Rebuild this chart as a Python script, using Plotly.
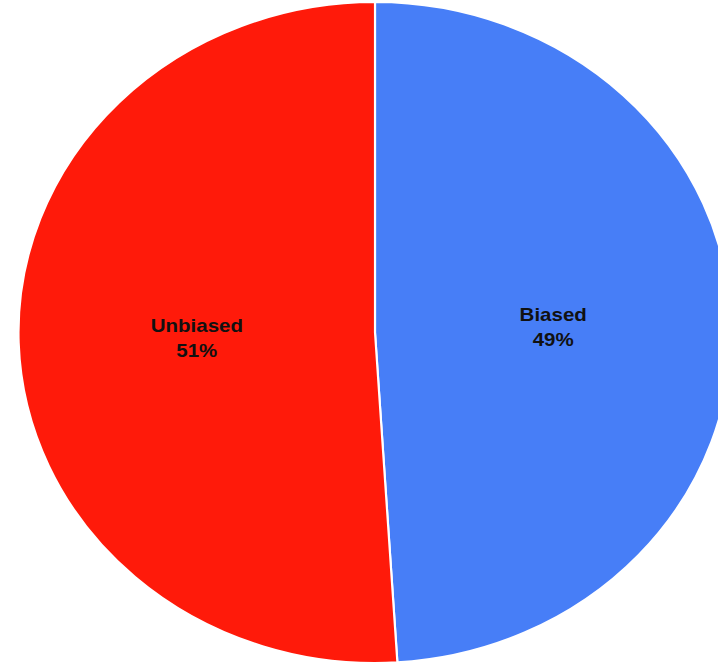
import plotly.graph_objects as go

# Share of responses by category
categories = ["Biased", "Unbiased"]
shares = [49, 51]
slice_colors = ["#477ef7", "#ff1a0a"]

# The pie is shown slightly wider than tall
stretch_x = 1.0787
page_w, page_h = 718, 668
center_x = 375 / stretch_x
half_w = 340

fig = go.Figure(
    go.Pie(
        labels=categories,
        values=shares,
        sort=False,
        direction="clockwise",
        rotation=0,
        marker=dict(colors=slice_colors, line=dict(color="white", width=2)),
        textinfo="label+percent",
        texttemplate="<b>%{label}</b><br><b>%{percent:.0%}</b>",
        textposition="inside",
        insidetextorientation="horizontal",
        textfont=dict(family="Liberation Sans, Arial, sans-serif", size=19, color="#111111"),
        domain=dict(
            x=[(center_x - half_w) / page_w, (center_x + half_w) / page_w],
            y=[5 / page_h, 666 / page_h],
        ),
        hoverinfo="skip",
    )
)

fig.update_layout(
    width=page_w,
    height=page_h,
    margin=dict(l=0, r=0, t=0, b=0),
    showlegend=False,
    paper_bgcolor="white",
    plot_bgcolor="white",
)

stretch_js = """
var gd = document.getElementById('{plot_id}');
gd.style.transformOrigin = '0 0';
gd.style.transform = 'scaleX(%s)';
document.body.style.margin = '0';
document.body.style.overflow = 'hidden';
""" % stretch_x

fig.write_html("out.html", post_script=stretch_js, config={"displayModeBar": False})
